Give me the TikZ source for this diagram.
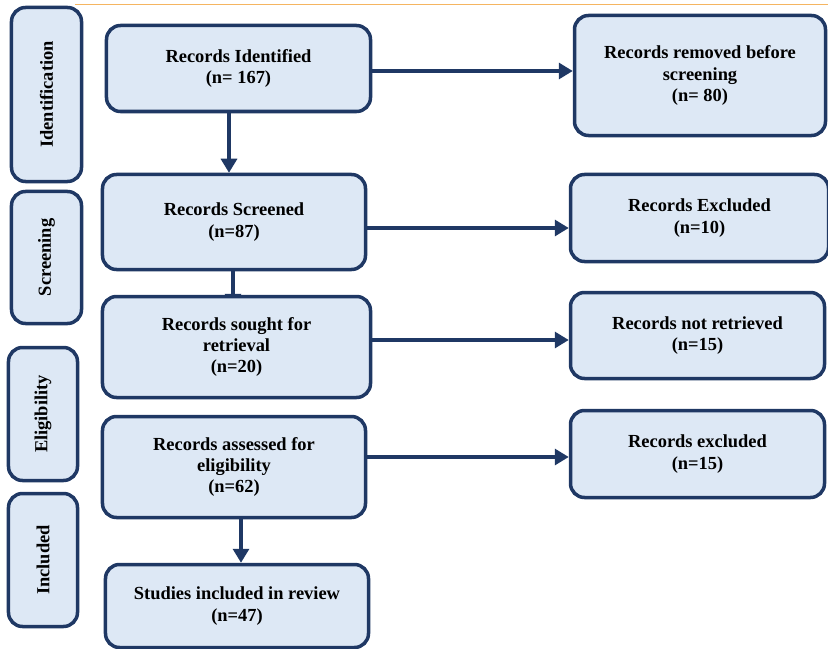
\documentclass[tikz,border=0pt]{standalone}
\usepackage{fontspec}
\setmainfont{Liberation Serif}
\usetikzlibrary{arrows.meta}
\definecolor{navy}{HTML}{1F3864}
\definecolor{boxfill}{HTML}{DDE8F5}
\definecolor{rule}{HTML}{F5B561}
\pgfdeclarelayer{background}
\pgfsetlayers{background,main}
\begin{document}
\begin{tikzpicture}[x=1bp,y=-1bp,
  box/.style={draw=navy, fill=boxfill, line width=3.5bp, rounded corners=14bp,
    align=center, inner sep=0pt, font=\bfseries\fontsize{18.5}{21.5}\selectfont},
  arr/.style={draw=navy, line width=3.2bp, -{Triangle[length=14bp,width=16bp]}}]
\useasboundingbox (0,0) rectangle (828,649);
\draw[rule, line width=1bp] (75,5) -- (828,5);
% side boxes
\node[box, minimum width=70bp, minimum height=174bp] (sideI) at (46.5,94.5) {\rotatebox{90}{Identification}};
\node[box, minimum width=70bp, minimum height=132bp] (sideS) at (46.5,257.5) {\rotatebox{90}{Screening}};
\node[box, minimum width=69bp, minimum height=133bp] (sideE) at (43,414) {\rotatebox{90}{Eligibility}};
\node[box, minimum width=69bp, minimum height=133bp] (sideN) at (43,560) {\rotatebox{90}{Included}};
% main column
\node[box, minimum width=264bp, minimum height=86bp] (ident) at (238.5,68.5) {Records Identified\\(n= 167)};
\node[box, minimum width=263bp, minimum height=95bp] (screen) at (234,222) {Records Screened\\(n=87)};
\node[box, minimum width=268bp, minimum height=101bp] (sought) at (236.5,347) {Records sought for\\retrieval\\(n=20)};
\node[box, minimum width=263bp, minimum height=101bp] (assess) at (234,467) {Records assessed for\\eligibility\\(n=62)};
\node[box, minimum width=263bp, minimum height=83bp] (incl) at (237,606) {Studies included in review\\(n=47)};
% right column
\node[box, minimum width=251bp, minimum height=120bp] (removed) at (700,75.5) {Records removed before\\screening\\(n= 80)};
\node[box, minimum width=258bp, minimum height=87bp] (excl1) at (699.5,218) {Records Excluded\\(n=10)};
\node[box, minimum width=254bp, minimum height=86bp] (notret) at (697.5,335.5) {Records not retrieved\\(n=15)};
\node[box, minimum width=254bp, minimum height=87bp] (excl2) at (697.5,454) {Records excluded\\(n=15)};
% connectors
\draw[arr] ([yshift=-2.5bp]ident.east) -- ([yshift=-2.5bp]ident.east -| removed.west);
\draw[arr] ([yshift=-6bp]screen.east) -- ([yshift=-6bp]screen.east -| excl1.west);
\draw[arr] ([yshift=7bp]sought.east) -- ([yshift=7bp]sought.east -| notret.west);
\draw[arr] ([yshift=10bp]assess.east) -- ([yshift=10bp]assess.east -| excl2.west);
\draw[arr] ([xshift=-9.5bp]ident.south) -- ([xshift=-9.5bp]ident.south |- screen.north);
\begin{pgfonlayer}{background}
\draw[arr] ([xshift=-1bp]screen.south) -- ([xshift=-1bp,yshift=-13bp]screen.south |- sought.north);
\end{pgfonlayer}
\draw[arr] ([xshift=7bp]assess.south) -- ([xshift=7bp]assess.south |- incl.north);
\end{tikzpicture}
\end{document}
